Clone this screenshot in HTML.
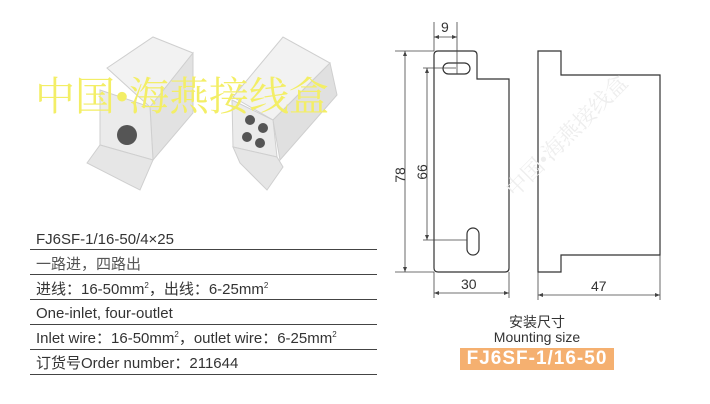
<!DOCTYPE html>
<html><head><meta charset="utf-8"><style>
body{margin:0;width:710px;height:404px;background:#fff;overflow:hidden;position:relative;font-family:"Liberation Sans","Noto Sans CJK SC",sans-serif;color:#333}
.t{position:absolute;left:36px;font-size:15px;white-space:nowrap;line-height:18px}
.l{position:absolute;left:30px;width:347px;height:1px;background:#444}
sup{font-size:8px;vertical-align:6px;line-height:0}
</style></head><body>
<svg width="710" height="404" style="position:absolute;left:0;top:0">
<g stroke="#cfcfcf" stroke-width="1">
<polygon points="107,68 153,37 193,53 150,107" fill="#f2f2f2"/>
<polygon points="150,107 193,53 193,113 153,160" fill="#e2e2e2"/>
<polygon points="100,90 150,107 153,160 100,145" fill="#ebebeb"/>
<polygon points="87,163 100,145 153,160 140,190" fill="#e6e6e6"/>
<polygon points="233,97 283,37 330,63 273,120" fill="#f2f2f2"/>
<polygon points="273,120 330,63 337,95 280,160" fill="#e0e0e0"/>
<polygon points="232,100 273,120 277,157 233,147" fill="#ebebeb"/>
<polygon points="240,163 233,147 277,157 283,167 267,190" fill="#e6e6e6"/>
</g>
<circle cx="127" cy="135" r="10" fill="#555"/>
<circle cx="250" cy="120" r="5" fill="#555"/><circle cx="263" cy="128" r="5" fill="#555"/>
<circle cx="247" cy="137" r="5" fill="#555"/><circle cx="260" cy="143" r="5" fill="#555"/>
<text x="35" y="110" font-family="Liberation Serif,Noto Serif CJK SC,serif" font-size="40" fill="#f3ee66">中国•海燕接线盒</text>
<g fill="none" stroke="#333" stroke-width="1.2">
<path d="M438,51 H473 Q477,51 477,55 V79 H509 V268 Q509,272 505,272 H438 Q434,272 434,268 V55 Q434,51 438,51Z"/>
<rect x="443" y="63" width="27" height="11" rx="5.5"/>
<rect x="467" y="228" width="12" height="27" rx="6"/>
<path d="M538,51 H561 V75 H660 V255 H561 V272 H538 Z"/>
</g>
<g stroke="#444" stroke-width="0.8" fill="none">
<path d="M434,22 V51 M457,22 V74 M434,37 H457"/>
<path d="M395,51 H434 M395,272 H434 M405,51 V272"/>
<path d="M423,68 H456 M423,240 H467 M427,68 V240"/>
<path d="M434,272 V298 M509,272 V298 M434,293 H509"/>
<path d="M538,272 V300 M660,255 V300 M538,295 H660"/>
</g>
<g fill="#444">
<path d="M434,37 l5,-2 v4z M457,37 l-5,-2 v4z"/>
<path d="M405,51 l-2,5 h4z M405,272 l-2,-5 h4z"/>
<path d="M427,68 l-2,5 h4z M427,240 l-2,-5 h4z"/>
<path d="M434,293 l5,-2 v4z M509,293 l-5,-2 v4z"/>
<path d="M538,295 l5,-2 v4z M660,295 l-5,-2 v4z"/>
</g>
<g font-size="14" fill="#333" font-family="Liberation Sans,sans-serif">
<text x="441" y="32">9</text>
<text x="461" y="289">30</text>
<text x="591" y="291">47</text>
<text transform="translate(405,175) rotate(-90)" text-anchor="middle">78</text>
<text transform="translate(427,172) rotate(-90)" text-anchor="middle">66</text>
</g>
<text x="508" y="158" font-family="Liberation Serif,Noto Serif CJK SC,serif" font-size="22" fill="#eee" transform="rotate(-45 560 170)">中国•海燕接线盒</text>
</svg>
<div class="t" style="top:231px">FJ6SF-1/16-50/4×25</div><div class="l" style="top:249px"></div>
<div class="t" style="top:256px;color:#555">一路进，四路出</div><div class="l" style="top:274px"></div>
<div class="t" style="top:281px">进线：16-50mm<sup>2</sup>，出线：6-25mm<sup>2</sup></div><div class="l" style="top:299px"></div>
<div class="t" style="top:305px">One-inlet, four-outlet</div><div class="l" style="top:324px"></div>
<div class="t" style="top:330px">Inlet wire：16-50mm<sup>2</sup>，outlet wire：6-25mm<sup>2</sup></div><div class="l" style="top:349px"></div>
<div class="t" style="top:355px">订货号Order number：211644</div><div class="l" style="top:374px"></div>
<div style="position:absolute;left:460px;top:315px;width:154px;text-align:center;font-size:14px;line-height:15px">安装尺寸<br>Mounting size</div>
<div style="position:absolute;left:460px;top:348px;width:154px;height:22px;background:#f5b070;color:#fff;font-weight:bold;font-size:19px;line-height:22px;text-align:center;letter-spacing:1px">FJ6SF-1/16-50</div>
</body></html>
